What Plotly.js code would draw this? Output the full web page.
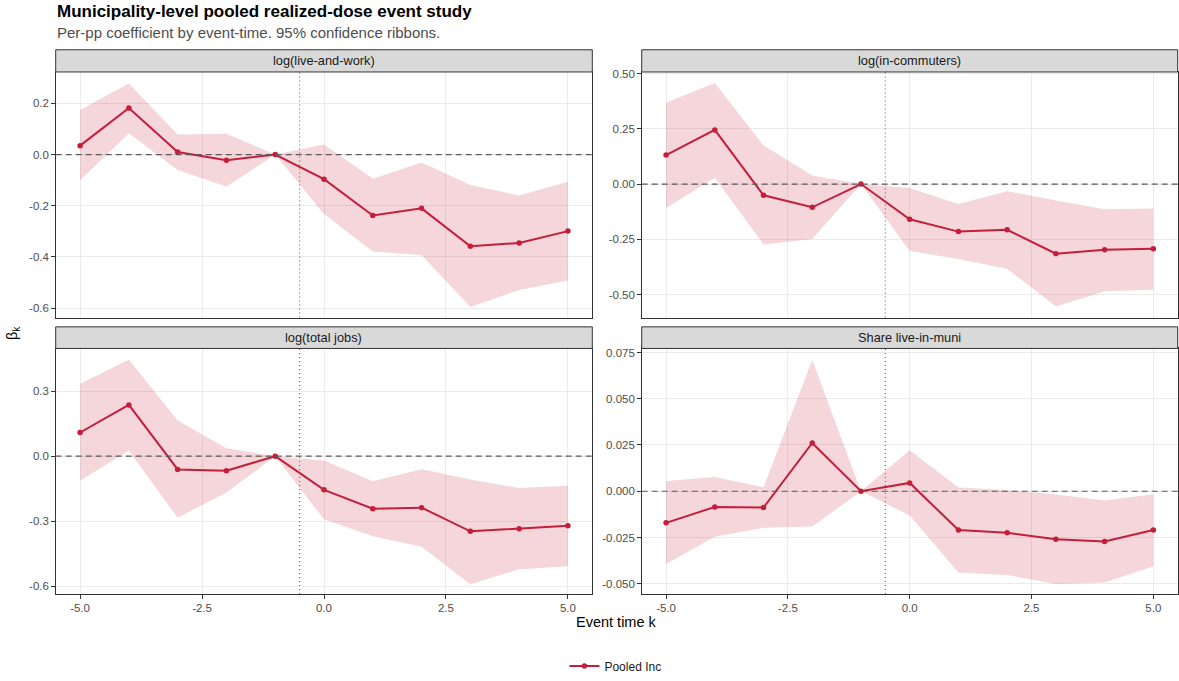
<!DOCTYPE html>
<html>
<head>
<meta charset="utf-8">
<script src="https://cdn.plot.ly/plotly-3.0.1.min.js"></script>
<style>html,body{margin:0;padding:0;background:#fff;}#chart{width:1179px;height:681px;}</style>
</head>
<body>
<div id="chart"></div>
<script>
// ---- Data ----
const eventTime = [-5, -4, -3, -2, -1, 0, 1, 2, 3, 4, 5];
const panelNames = ["log(live-and-work)", "log(in-commuters)", "log(total jobs)", "Share live-in-muni"];
const seriesName = "Pooled Inc";

const liveWorkEst = [0.035, 0.182, 0.010, -0.022, 0, -0.096, -0.238, -0.210, -0.358, -0.345, -0.299];
const liveWorkHi  = [0.174, 0.278, 0.079, 0.082, 0, 0.040, -0.094, -0.031, -0.119, -0.160, -0.106];
const liveWorkLo  = [-0.100, 0.084, -0.060, -0.125, 0, -0.232, -0.379, -0.392, -0.596, -0.529, -0.492];

const inCommEst = [0.131, 0.245, -0.051, -0.105, 0, -0.159, -0.215, -0.207, -0.315, -0.297, -0.293];
const inCommHi  = [0.368, 0.457, 0.174, 0.039, 0, -0.018, -0.090, -0.032, -0.074, -0.114, -0.111];
const inCommLo  = [-0.108, 0.029, -0.273, -0.249, 0, -0.303, -0.339, -0.383, -0.554, -0.485, -0.478];

const totJobsEst = [0.109, 0.236, -0.061, -0.067, 0, -0.155, -0.242, -0.237, -0.346, -0.334, -0.320];
const totJobsHi  = [0.334, 0.444, 0.164, 0.037, 0, -0.020, -0.116, -0.060, -0.107, -0.147, -0.136];
const totJobsLo  = [-0.113, 0.026, -0.283, -0.167, 0, -0.291, -0.369, -0.417, -0.590, -0.521, -0.507];

const shareEst = [-0.0171, -0.0085, -0.0088, 0.0261, 0, 0.0045, -0.0210, -0.0225, -0.0259, -0.0272, -0.0210];
const shareHi  = [0.0056, 0.0077, 0.0022, 0.0710, 0, 0.0221, 0.0020, 0.0007, -0.0018, -0.0050, -0.0016];
const shareLo  = [-0.0394, -0.0246, -0.0198, -0.0191, 0, -0.0131, -0.0439, -0.0453, -0.0502, -0.0493, -0.0405];

const xTickVals = [-5, -2.5, 0, 2.5, 5];
const xTickText = ["-5.0", "-2.5", "0.0", "2.5", "5.0"];
const yTicks1 = [0.2, 0, -0.2, -0.4, -0.6];
const yText1  = ["0.2", "0.0", "-0.2", "-0.4", "-0.6"];
const yTicks2 = [0.5, 0.25, 0, -0.25, -0.5];
const yText2  = ["0.50", "0.25", "0.00", "-0.25", "-0.50"];
const yTicks3 = [0.3, 0, -0.3, -0.6];
const yText3  = ["0.3", "0.0", "-0.3", "-0.6"];
const yTicks4 = [0.075, 0.05, 0.025, 0, -0.025, -0.05];
const yText4  = ["0.075", "0.050", "0.025", "0.000", "-0.025", "-0.050"];

const panels = [
  {est: liveWorkEst, hi: liveWorkHi, lo: liveWorkLo, tv: yTicks1, tt: yText1, range: [-0.637, 0.323]},
  {est: inCommEst, hi: inCommHi, lo: inCommLo, tv: yTicks2, tt: yText2, range: [-0.604, 0.507]},
  {est: totJobsEst, hi: totJobsHi, lo: totJobsLo, tv: yTicks3, tt: yText3, range: [-0.635, 0.496]},
  {est: shareEst, hi: shareHi, lo: shareLo, tv: yTicks4, tt: yText4, range: [-0.0556, 0.0772]}
];

// ---- Style / layout ----
const W = 1179, H = 681;
const FONT = "Liberation Sans, Arial, Helvetica, sans-serif";
const lineColor = "#C41E3A";
const ribbonColor = "rgba(196,30,58,0.18)";
const xDom = [[55.7 / W, 592.3 / W], [641.7 / W, 1177.7 / W]];
const yDomTop = [(H - 319) / H, (H - 72.3) / H];
const yDomBot = [(H - 596.7) / H, (H - 350) / H];
const stripTop = [(H - 72.3) / H, (H - 50) / H];
const stripBot = [(H - 350) / H, (H - 328.3) / H];

const traces = [];
const layout = {
  width: W, height: H,
  margin: {l: 0, r: 0, t: 0, b: 0},
  paper_bgcolor: "#fff", plot_bgcolor: "#fff",
  font: {family: FONT, size: 11.5, color: "#4d4d4d"},
  showlegend: true,
  legend: {orientation: "h", x: 0.522, xanchor: "center", y: 12 / H, yanchor: "middle",
           font: {family: FONT, size: 12, color: "#1a1a1a"}, itemwidth: 30, bgcolor: "rgba(0,0,0,0)"},
  shapes: [], annotations: []
};

panels.forEach((p, i) => {
  const k = i + 1;
  const xa = k === 1 ? "x" : "x" + k;
  const ya = k === 1 ? "y" : "y" + k;
  const col = i % 2, row = Math.floor(i / 2);
  const revX = eventTime.slice().reverse();
  traces.push({
    x: eventTime.concat(revX), y: p.hi.concat(p.lo.slice().reverse()),
    xaxis: xa, yaxis: ya, type: "scatter", mode: "lines", fill: "toself",
    fillcolor: ribbonColor, line: {width: 0, color: "rgba(0,0,0,0)"},
    hoverinfo: "skip", showlegend: false
  });
  traces.push({
    x: eventTime, y: p.est, xaxis: xa, yaxis: ya, type: "scatter", mode: "lines+markers",
    name: seriesName, showlegend: i === 0,
    line: {color: lineColor, width: 2}, marker: {color: lineColor, size: 5.5}
  });
  const bottom = row === 1;
  layout[(k === 1 ? "xaxis" : "xaxis" + k)] = {
    domain: xDom[col], anchor: ya, range: [-5.5, 5.5],
    tickvals: xTickVals, ticktext: xTickText,
    showticklabels: bottom, ticks: bottom ? "outside" : "", ticklen: 3.5, tickcolor: "#333", tickwidth: 1,
    showgrid: true, gridcolor: "#ebebeb", gridwidth: 1, zeroline: false,
    showline: true, mirror: true, linecolor: "#333", linewidth: 1,
    tickfont: {family: FONT, size: 11.5, color: "#4d4d4d"}, fixedrange: true
  };
  layout[(k === 1 ? "yaxis" : "yaxis" + k)] = {
    domain: row === 0 ? yDomTop : yDomBot, anchor: xa, range: p.range,
    tickvals: p.tv, ticktext: p.tt, ticks: "outside", ticklen: 3.5, tickcolor: "#333", tickwidth: 1,
    showgrid: true, gridcolor: "#ebebeb", gridwidth: 1, zeroline: false,
    showline: true, mirror: true, linecolor: "#333", linewidth: 1,
    tickfont: {family: FONT, size: 11.5, color: "#4d4d4d"}, fixedrange: true
  };
  // zero dashed line & event vertical dotted line
  layout.shapes.push({type: "line", xref: xa + " domain", yref: ya, x0: 0, x1: 1, y0: 0, y1: 0,
    line: {color: "#5a5a5a", width: 1.2, dash: "6px,4px"}, layer: "above"});
  layout.shapes.push({type: "line", xref: xa, yref: ya + " domain", x0: -0.5, x1: -0.5, y0: 0, y1: 1,
    line: {color: "#6e6e6e", width: 1.2, dash: "1px,3px"}, layer: "above"});
  // strip
  const sd = row === 0 ? stripTop : stripBot;
  layout.shapes.push({type: "rect", xref: "paper", yref: "paper", x0: xDom[col][0], x1: xDom[col][1],
    y0: sd[0], y1: sd[1], fillcolor: "#d9d9d9", line: {color: "#333", width: 1}, layer: "above"});
  layout.annotations.push({xref: "paper", yref: "paper", x: (xDom[col][0] + xDom[col][1]) / 2,
    y: (sd[0] + sd[1]) / 2, text: panelNames[i], showarrow: false, xanchor: "center", yanchor: "middle",
    font: {family: FONT, size: 12.8, color: "#1a1a1a"}});
});

// Titles
layout.annotations.push({xref: "paper", yref: "paper", x: 55 / W, y: (H - 12) / H, xanchor: "left", yanchor: "middle",
  text: "<b>Municipality-level pooled realized-dose event study</b>", showarrow: false,
  font: {family: FONT, size: 17, color: "#000"}});
layout.annotations.push({xref: "paper", yref: "paper", x: 55 / W, y: (H - 33) / H, xanchor: "left", yanchor: "middle",
  text: "Per-pp coefficient by event-time. 95% confidence ribbons.", showarrow: false,
  font: {family: FONT, size: 15, color: "#4d4d4d"}});
layout.annotations.push({xref: "paper", yref: "paper", x: 616.7 / W, y: (H - 625) / H, xanchor: "center", yanchor: "middle",
  text: "Event time k", showarrow: false, font: {family: FONT, size: 14.5, color: "#000"}});
layout.annotations.push({xref: "paper", yref: "paper", x: 13 / W, y: (H - 334.5) / H, xanchor: "center", yanchor: "middle",
  text: "β<sub>k</sub>", textangle: -90, showarrow: false, font: {family: FONT, size: 14.5, color: "#000"}});

Plotly.newPlot("chart", traces, layout, {displayModeBar: false, staticPlot: true});
</script>
</body>
</html>
